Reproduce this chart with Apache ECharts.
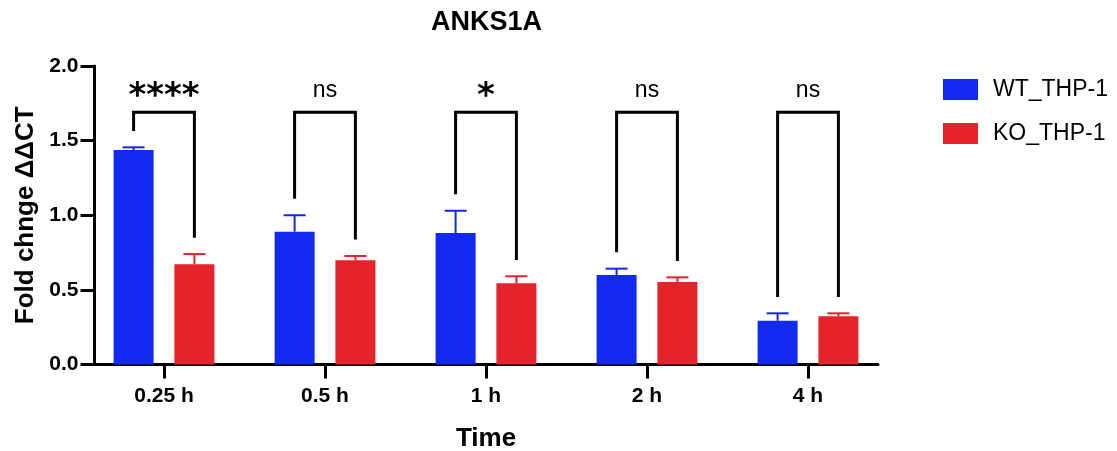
<!DOCTYPE html>
<html>
<head>
<meta charset="utf-8">
<script src="https://cdn.jsdelivr.net/npm/echarts@6/dist/echarts.min.js"></script>
<style>
  html, body { margin: 0; padding: 0; background: #fff; }
  #chart { width: 1117px; height: 451px; }
</style>
</head>
<body>
<div id="chart"></div>
<script>
// ANKS1A expression, fold change (ΔΔCT) over time
const categories = ['0.25 h', '0.5 h', '1 h', '2 h', '4 h'];
const seriesNames = ['WT_THP-1', 'KO_THP-1'];
const wtMean = [1.437, 0.890, 0.881, 0.600, 0.293];
const wtErr  = [0.018, 0.110, 0.149, 0.042, 0.050];
const koMean = [0.671, 0.698, 0.544, 0.553, 0.323];
const koErr  = [0.069, 0.029, 0.047, 0.031, 0.020];
const sigLabels = ['****', 'ns', '*', 'ns', 'ns'];
const yMin = 0, yMax = 2, yStep = 0.5;
const bracketTop = 1.69;

const FONT = '"Liberation Sans", Arial, Helvetica, sans-serif';
const BLUE = '#1229f1';
const RED = '#e4232a';
const BAR_W = 40;
const BAR_GAP = 0.52;
const LEG_GAP = 0.11;

const chart = echarts.init(document.getElementById('chart'), null, { renderer: 'canvas' });

function pairOffset() {
  return (BAR_W + BAR_W * BAR_GAP) / 2;
}

function errorBarItem(meanArr, errArr, sign, color) {
  return function (params, api) {
    const i = api.value(0);
    const cx = api.coord([i, 0])[0] + sign * pairOffset();
    const pTop = api.coord([i, meanArr[i] + errArr[i]]);
    const pMid = api.coord([i, meanArr[i]]);
    const capHalf = 11;
    return {
      type: 'group',
      children: [
        { type: 'line', shape: { x1: cx, y1: pMid[1], x2: cx, y2: pTop[1] },
          style: { stroke: color, lineWidth: 2 } },
        { type: 'line', shape: { x1: cx - capHalf, y1: pTop[1], x2: cx + capHalf, y2: pTop[1] },
          style: { stroke: color, lineWidth: 2 } }
      ]
    };
  };
}

function bracketItem(params, api) {
  const i = api.value(0);
  const c = api.coord([i, 0])[0];
  const off = pairOffset();
  const xl = c - off, xr = c + off;
  const yTop = api.coord([i, bracketTop])[1];
  const yL = api.coord([i, wtMean[i] + wtErr[i] + LEG_GAP])[1];
  const yR = api.coord([i, koMean[i] + koErr[i] + LEG_GAP])[1];
  const label = sigLabels[i];
  const isStar = label.indexOf('*') >= 0;
  return {
    type: 'group',
    children: [
      { type: 'polyline', shape: { points: [[xl, yL], [xl, yTop], [xr, yTop], [xr, yR]] },
        style: { stroke: '#000', lineWidth: 3, fill: null } },
      { type: 'text',
        style: {
          text: label, x: c, y: isStar ? yTop - 15 : yTop - 22,
          align: 'center', verticalAlign: 'middle',
          fontFamily: isStar ? '"DejaVu Sans", sans-serif' : FONT,
          fontWeight: isStar ? 'bold' : 'normal',
          fontSize: isStar ? 34 : 23,
          fill: '#000'
        } }
    ]
  };
}

const idx = categories.map((_, i) => [i]);

const option = {
  backgroundColor: '#fff',
  animation: false,
  title: {
    text: 'ANKS1A',
    left: 431, top: 9, padding: 0,
    textStyle: { fontFamily: FONT, fontWeight: 'bold', fontSize: 27, color: '#000' }
  },
  legend: {
    data: seriesNames,
    orient: 'vertical',
    left: 943, top: 78, padding: 0,
    itemWidth: 35, itemHeight: 21, itemGap: 21,
    icon: 'rect',
    textStyle: { fontFamily: FONT, fontSize: 23, color: '#000', lineHeight: 21, padding: [0, 0, 0, 10] }
  },
  grid: [
    // bar layout grid
    { left: 83.5, width: 805, top: 66, height: 298.5, containLabel: false, outerBoundsMode: 'none' },
    // frame grid carrying the visible axes
    { left: 94.5, width: 783.5, top: 66, height: 298.5, containLabel: false, outerBoundsMode: 'none' }
  ],
  xAxis: [
    {
      type: 'category', gridIndex: 0, data: categories,
      axisLine: { show: false },
      axisTick: { show: true, alignWithLabel: true, length: 14, lineStyle: { color: '#000', width: 3 } },
      axisLabel: { margin: 21, fontFamily: FONT, fontWeight: 'bold', fontSize: 21, color: '#000' },
      name: 'Time', nameLocation: 'middle', nameGap: 61,
      nameTextStyle: { fontFamily: FONT, fontWeight: 'bold', fontSize: 26, color: '#000' }
    },
    {
      type: 'value', gridIndex: 1, min: 0, max: 1,
      axisLine: { show: true, onZero: false, lineStyle: { color: '#000', width: 3 } },
      axisTick: { show: false }, axisLabel: { show: false }, splitLine: { show: false }
    }
  ],
  yAxis: [
    {
      type: 'value', gridIndex: 0, min: yMin, max: yMax, interval: yStep,
      show: false
    },
    {
      type: 'value', gridIndex: 1, min: yMin, max: yMax, interval: yStep,
      axisLine: { show: true, lineStyle: { color: '#000', width: 3 } },
      axisTick: { show: true, length: 14, lineStyle: { color: '#000', width: 3 } },
      axisLabel: {
        margin: 16, fontFamily: FONT, fontWeight: 'bold', fontSize: 21, color: '#000',
        formatter: v => v.toFixed(1)
      },
      splitLine: { show: false },
      name: 'Fold chnge ΔΔCT', nameLocation: 'middle', nameGap: 56,
      nameTextStyle: { fontFamily: FONT, fontWeight: 'bold', fontSize: 26, color: '#000' }
    }
  ],
  series: [
    {
      name: seriesNames[0], type: 'bar', xAxisIndex: 0, yAxisIndex: 0,
      data: wtMean, barWidth: BAR_W, barGap: (BAR_GAP * 100) + '%',
      itemStyle: { color: BLUE }
    },
    {
      name: seriesNames[1], type: 'bar', xAxisIndex: 0, yAxisIndex: 0,
      data: koMean, barWidth: BAR_W, barGap: (BAR_GAP * 100) + '%',
      itemStyle: { color: RED }
    },
    {
      type: 'custom', xAxisIndex: 0, yAxisIndex: 0, data: idx, encode: { x: 0 },
      renderItem: errorBarItem(wtMean, wtErr, -1, BLUE), z: 3, silent: true
    },
    {
      type: 'custom', xAxisIndex: 0, yAxisIndex: 0, data: idx, encode: { x: 0 },
      renderItem: errorBarItem(koMean, koErr, 1, RED), z: 3, silent: true
    },
    {
      type: 'custom', xAxisIndex: 0, yAxisIndex: 0, data: idx, encode: { x: 0 },
      renderItem: bracketItem, clip: false, z: 4, silent: true
    }
  ]
};

chart.setOption(option);
</script>
</body>
</html>
